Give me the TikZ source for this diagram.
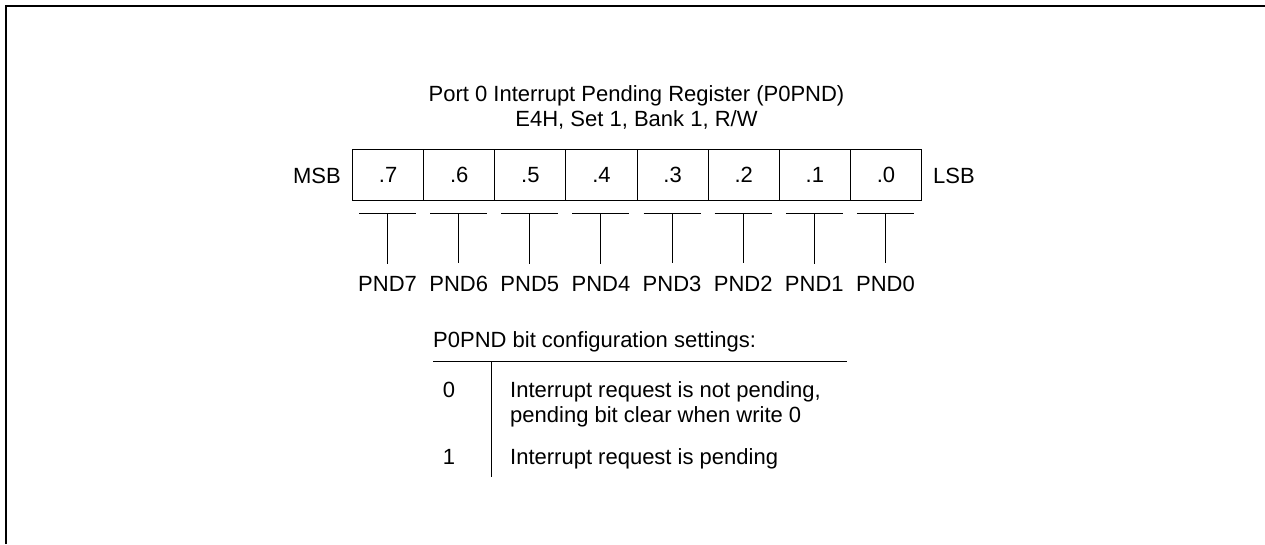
\documentclass[tikz,border=0pt]{standalone}
\usepackage{fontspec}
\setmainfont{Liberation Sans}
\begin{document}
\begin{tikzpicture}[x=1pt,y=-1pt,
  txt/.style={font=\fontsize{22}{25}\selectfont, inner sep=0pt},
  cell/.style={draw, line width=1pt, minimum width=71.125pt, minimum height=51pt, inner sep=0pt, anchor=north west, font=\fontsize{22}{25}\selectfont},
  frame/.style={line width=2pt},
  thin/.style={line width=1pt}]
\useasboundingbox (0,0) rectangle (1265,544);
\draw[frame] (6,544) -- (6,6) -- (1265,6);
% title (base anchor = baseline of last line)
\node[txt, anchor=base, align=center] (title) at (636.5,126) {Port 0 Interrupt Pending Register (P0PND)\\E4H, Set 1, Bank 1, R/W};
% register cells
\foreach \i in {0,...,7} {
  \pgfmathtruncatemacro\b{7-\i}
  \node[cell] (c\b) at ({352+\i*71.125},149) {.\b};
  \coordinate (t\b) at ({352+\i*71.125+35.56},213);
  \draw[thin] ({352+\i*71.125+7},213) -- ++(57.1,0);
  \node[txt, anchor=base] (p\b) at ({352+\i*71.125+35.56},291) {PND\b};
  \draw[thin] (t\b) -- ([yshift=12pt]p\b.north);
}
\node[txt, anchor=base east] (msb) at (341,183) {MSB};
\node[txt, anchor=base west] (lsb) at (933,183) {LSB};
% settings
\node[txt, anchor=base west] (st) at (433,347) {P0PND bit configuration settings:};
\draw[thin] (433,361) -- (847,361);
\draw[thin] (491,361) -- (491,477);
\node[txt, anchor=base] (v0) at (449,397) {0};
\node[txt, anchor=base west, align=left] (d0) at (510,422) {Interrupt request is not pending,\\pending bit clear when write 0};
\node[txt, anchor=base] (v1) at (449,464) {1};
\node[txt, anchor=base west] (d1) at (510,464) {Interrupt request is pending};
\end{tikzpicture}
\end{document}
